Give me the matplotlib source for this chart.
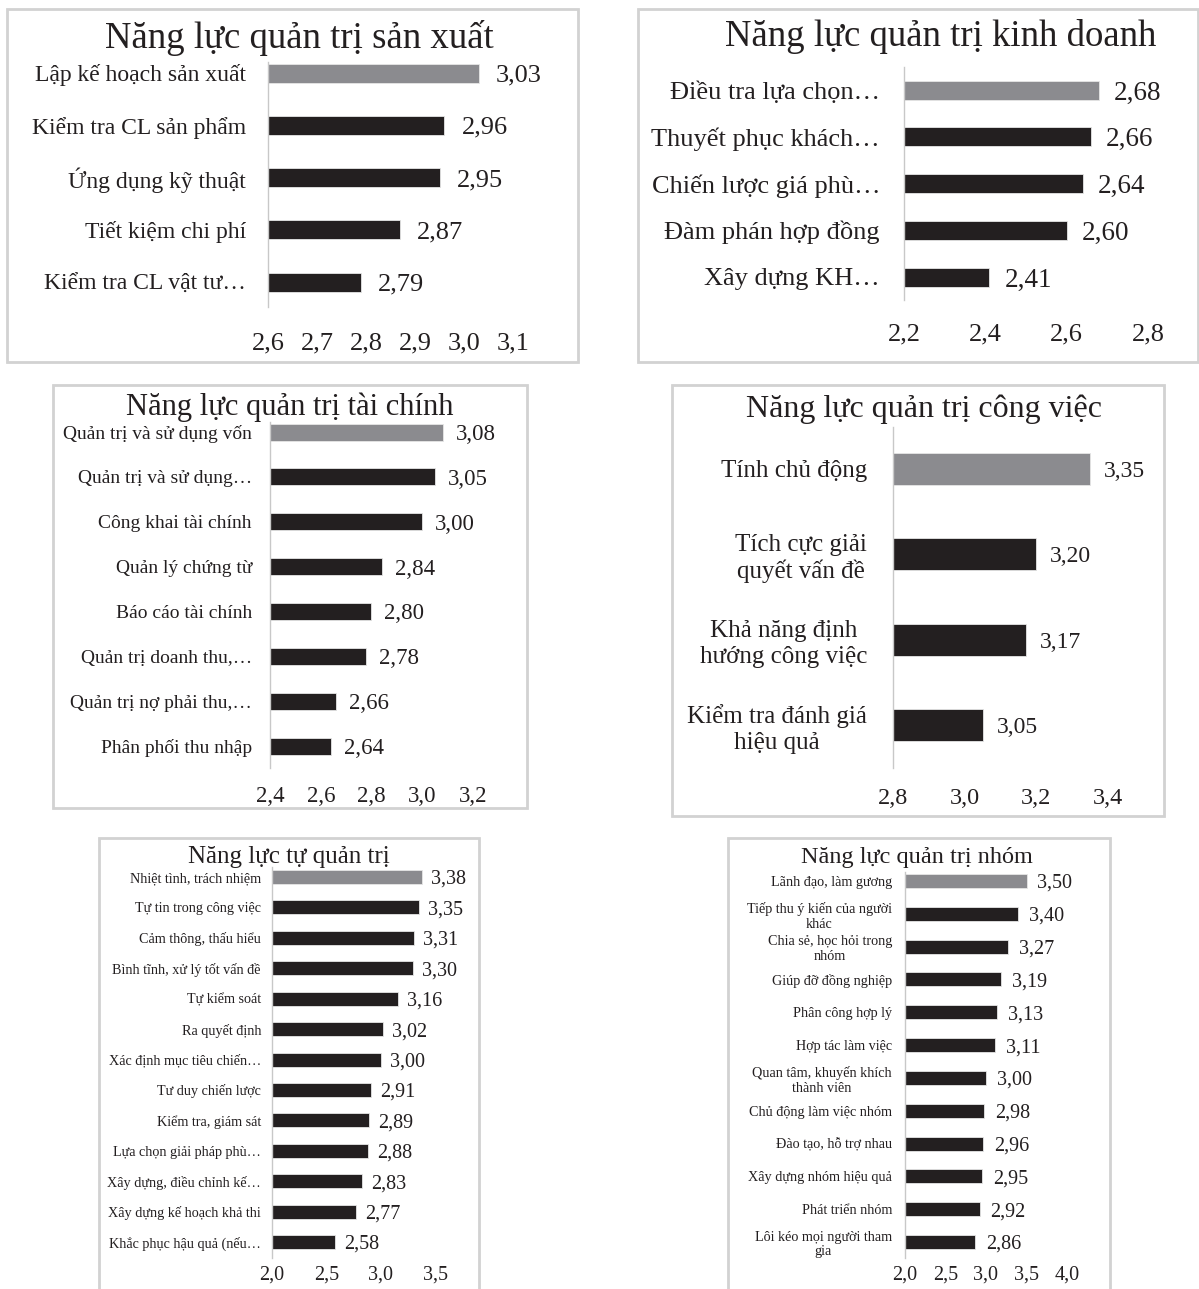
import matplotlib
matplotlib.use("Agg")
import matplotlib.pyplot as plt
from matplotlib.patches import Rectangle

plt.rcParams['font.family'] = ['Liberation Serif', 'DejaVu Serif']

W, H = 1199, 1289
PT = 100 / 72.0  # px per point

# ---- data ----
sx_title = "Năng lực quản trị sản xuất"
sx_labels = ["Lập kế hoạch sản xuất", "Kiểm tra CL sản phẩm", "Ứng dụng kỹ thuật",
             "Tiết kiệm chi phí", "Kiểm tra CL vật tư…"]
sx_values = [3.03, 2.96, 2.95, 2.87, 2.79]
sx_ticks = [2.6, 2.7, 2.8, 2.9, 3.0, 3.1]

kd_title = "Năng lực quản trị kinh doanh"
kd_labels = ["Điều tra lựa chọn…", "Thuyết phục khách…", "Chiến lược giá phù…",
             "Đàm phán hợp đồng", "Xây dựng KH…"]
kd_values = [2.68, 2.66, 2.64, 2.60, 2.41]
kd_ticks = [2.2, 2.4, 2.6, 2.8]

tc_title = "Năng lực quản trị tài chính"
tc_labels = ["Quản trị và sử dụng vốn", "Quản trị và sử dụng…", "Công khai tài chính",
             "Quản lý chứng từ", "Báo cáo tài chính", "Quản trị doanh thu,…",
             "Quản trị nợ phải thu,…", "Phân phối thu nhập"]
tc_values = [3.08, 3.05, 3.00, 2.84, 2.80, 2.78, 2.66, 2.64]
tc_ticks = [2.4, 2.6, 2.8, 3.0, 3.2]

cv_title = "Năng lực quản trị công việc"
cv_labels = ["Tính chủ động", "Tích cực giải\nquyết vấn đề",
             "Khả năng định\nhướng công việc", "Kiểm tra đánh giá\nhiệu quả"]
cv_values = [3.35, 3.20, 3.17, 3.05]
cv_ticks = [2.8, 3.0, 3.2, 3.4]

tq_title = "Năng lực tự quản trị"
tq_labels = ["Nhiệt tình, trách nhiệm", "Tự tin trong công việc", "Cảm thông, thấu hiểu",
             "Bình tĩnh, xử lý tốt vấn đề", "Tự kiểm soát", "Ra quyết định",
             "Xác định mục tiêu chiến…", "Tư duy chiến lược", "Kiểm tra, giám sát",
             "Lựa chọn giải pháp phù…", "Xây dựng, điều chỉnh kế…",
             "Xây dựng kế hoạch khả thi", "Khắc phục hậu quả (nếu…"]
tq_values = [3.38, 3.35, 3.31, 3.30, 3.16, 3.02, 3.00, 2.91, 2.89, 2.88, 2.83, 2.77, 2.58]
tq_ticks = [2.0, 2.5, 3.0, 3.5]

nh_title = "Năng lực quản trị nhóm"
nh_labels = ["Lãnh đạo, làm gương", "Tiếp thu ý kiến của người\nkhác",
             "Chia sẻ, học hỏi trong\nnhóm", "Giúp đỡ đồng nghiệp", "Phân công hợp lý",
             "Hợp tác làm việc", "Quan tâm, khuyến khích\nthành viên",
             "Chủ động làm việc nhóm", "Đào tạo, hỗ trợ nhau", "Xây dựng nhóm hiệu quả",
             "Phát triển nhóm", "Lôi kéo mọi người tham\ngia"]
nh_values = [3.50, 3.40, 3.27, 3.19, 3.13, 3.11, 3.00, 2.98, 2.96, 2.95, 2.92, 2.86]
nh_ticks = [2.0, 2.5, 3.0, 3.5, 4.0]

# ---- layout (pixels) ----
# box, axes (left, right, top, bottom), first/last bar centre, bar height,
# title (x, y, size), font sizes (label, value, tick), label gap, value gap, tick y
layouts = [
    dict(box=(7, 9, 578, 362), ax=(268, 513, 62, 307), bars=(73, 282, 19),
         title=(299, 38, 26.5), fs=(17, 19, 19), lgap=22, vgap=17, ticky=347),
    dict(box=(638, 9, 1198, 362), ax=(904, 1148, 67, 300), bars=(90, 277, 19),
         title=(941, 37, 26.5), fs=(19, 19.5, 19), lgap=24, vgap=15, ticky=338),
    dict(box=(53, 385, 527, 808), ax=(270, 473, 422, 768), bars=(432, 746, 17),
         title=(290, 407, 22), fs=(14, 16.5, 16.5), lgap=18, vgap=13, ticky=799),
    dict(box=(672, 385, 1164, 816), ax=(893, 1108, 427, 768), bars=(469, 725, 32),
         title=(924, 409, 23), fs=(18, 17, 17.5), lgap=26, vgap=14, ticky=801),
    dict(box=(99, 838, 479, 1300), ax=(272, 435, 867, 1258), bars=(877, 1242, 14),
         title=(289, 857, 18), fs=(10.2, 14.5, 14.5), lgap=11, vgap=9, ticky=1277),
    dict(box=(728, 838, 1110, 1300), ax=(905, 1067, 872, 1258), bars=(881, 1242, 14),
         title=(917, 857, 17.5), fs=(10.2, 14.5, 14.5), lgap=13, vgap=11, ticky=1277),
]

panels = [
    (sx_title, sx_labels, sx_values, sx_ticks),
    (kd_title, kd_labels, kd_values, kd_ticks),
    (tc_title, tc_labels, tc_values, tc_ticks),
    (cv_title, cv_labels, cv_values, cv_ticks),
    (tq_title, tq_labels, tq_values, tq_ticks),
    (nh_title, nh_labels, nh_values, nh_ticks),
]

TXT = '#231f20'
BLACK = '#231f20'
GREY = '#8b8b8f'


def comma(v, d):
    return f"{v:.{d}f}".replace('.', ',')


def draw(fig, title, labels, values, ticks, lay):
    x0, y0, x1, y1 = lay['box']
    fig.add_artist(Rectangle((x0 / W, 1 - y1 / H), (x1 - x0) / W, (y1 - y0) / H,
                             transform=fig.transFigure, fill=False,
                             ec='#d2d2d2', lw=2))
    tx, ty, tfs = lay['title']
    fig.text(tx / W, 1 - ty / H, title, ha='center', va='center',
             fontsize=tfs, color=TXT)

    l, r, t, b = lay['ax']
    ax = fig.add_axes([l / W, 1 - b / H, (r - l) / W, (b - t) / H])
    ax.patch.set_alpha(0)
    n = len(values)
    c0, cn, bh = lay['bars']
    s = (cn - c0) / (n - 1)
    y = list(range(n))
    colors = [GREY] + [BLACK] * (n - 1)
    bars = ax.barh(y, values, height=bh / s, left=0, color=colors,
                   edgecolor='#e6e6e6', linewidth=0.6)
    ax.set_xlim(ticks[0], ticks[-1])
    ax.set_ylim((n - 1) + (b - cn) / s, -(c0 - t) / s)

    lfs, vfs, tkfs = lay['fs']
    vals = ax.bar_label(bars, labels=[comma(v, 2) for v in values],
                        padding=lay['vgap'] / PT, fontsize=vfs, color=TXT)
    for txt in vals:
        txt.set_va('center_baseline')

    ax.set_yticks(y)
    ax.set_yticklabels(labels, fontsize=lfs, color=TXT, multialignment='center')
    ax.set_xticks(ticks)
    ax.set_xticklabels([comma(v, 1) for v in ticks], fontsize=tkfs, color=TXT)
    xpad = (lay['ticky'] - b) / PT - 0.55 * tkfs
    ax.tick_params(axis='x', length=0, pad=xpad)
    ax.tick_params(axis='y', length=0, pad=lay['lgap'] / PT)
    for side in ('top', 'right', 'bottom'):
        ax.spines[side].set_visible(False)
    ax.spines['left'].set_color('#c8c8c8')
    ax.spines['left'].set_linewidth(1.0)


fig = plt.figure(figsize=(W / 100, H / 100), dpi=100)
fig.patch.set_facecolor('white')
for (title, labels, values, ticks), lay in zip(panels, layouts):
    draw(fig, title, labels, values, ticks, lay)

fig.savefig('out.png', dpi=100)
